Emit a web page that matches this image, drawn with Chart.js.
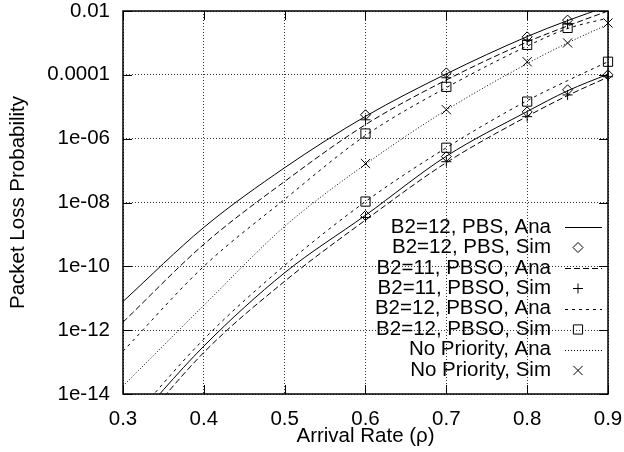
<!DOCTYPE html>
<html>
<head>
<meta charset="utf-8">
<script src="https://cdn.jsdelivr.net/npm/chart.js@4.4.1/dist/chart.umd.min.js"></script>
<style>
  html, body { margin: 0; padding: 0; background: #fff; }
</style>
</head>
<body>
<canvas id="lossChart" width="624" height="452"></canvas>
<script>
const rho = [0.3, 0.4, 0.5, 0.6, 0.7, 0.8, 0.85, 0.9];

// analytical curves (upper group = one class, lower group = the other)
const pbsAnaHi  = [7.9e-12, 1.66e-9, 1.23e-7, 5.0e-6, 1.07e-4, 1.58e-3, 5.0e-3, 1.41e-2];
const pbsAnaLo  = [5.0e-16, 3.16e-13, 6.3e-11, 3.98e-9, 2.82e-7, 7.1e-6, 3.16e-5, 1.05e-4];
const b11AnaHi  = [1.78e-12, 4.9e-10, 4.57e-8, 2.75e-6, 6.9e-5, 1.07e-3, 3.4e-3, 1.0e-2];
const b11AnaLo  = [2.5e-16, 2.0e-13, 3.4e-11, 2.82e-9, 1.78e-7, 5.0e-6, 2.24e-5, 8.5e-5];
const b12AnaHi  = [2.19e-13, 1.0e-10, 1.26e-8, 1.26e-6, 3.98e-5, 7.94e-4, 2.82e-3, 6.0e-3];
const b12AnaLo  = [7.9e-16, 5.2e-13, 1.07e-10, 1.07e-8, 5.2e-7, 1.55e-5, 6.6e-5, 2.57e-4];
const noPriAna  = [1.78e-14, 6.0e-12, 1.78e-9, 1.58e-7, 7.9e-6, 2.24e-4, 1.0e-3, 3.8e-3];

// simulation points
const simRho4 = [0.6, 0.7, 0.8, 0.85];
const simRho5 = [0.6, 0.7, 0.8, 0.85, 0.9];
const simRhoSq = [0.6, 0.7, 0.8, 0.9];
const pbsSimHi = [5.6e-6, 1.15e-4, 1.55e-3, 5.2e-3];
const pbsSimLo = [3.9e-9, 2.75e-7, 6.9e-6, 3.4e-5, 1.0e-4];
const b11SimHi = [3.9e-6, 8.1e-5, 1.23e-3, 3.9e-3];
const b11SimLo = [3.4e-9, 1.9e-7, 4.9e-6, 2.34e-5, 8.7e-5];
const b12SimHi = [1.45e-6, 4.2e-5, 8.7e-4, 2.95e-3];
const b12SimLo = [1.07e-8, 5.2e-7, 1.45e-5, 2.57e-4];
const noPriSim = [1.66e-7, 8.1e-6, 2.57e-4, 1.0e-3, 4.2e-3];

const xTicks = [0.3, 0.4, 0.5, 0.6, 0.7, 0.8, 0.9];
const xTickLabels = ['0.3', '0.4', '0.5', '0.6', '0.7', '0.8', '0.9'];
const yTicks = [1e-14, 1e-12, 1e-10, 1e-8, 1e-6, 1e-4, 1e-2];
const yTickLabels = ['1e-14', '1e-12', '1e-10', '1e-08', '1e-06', '0.0001', '0.01'];

const FONT = '"Liberation Sans", Arial, sans-serif';
Chart.defaults.font.family = FONT;
Chart.defaults.font.size = 20.5;
Chart.defaults.color = '#000';

const SOLID = [], LONG = [6, 3], SHORT = [3, 4], DOT = [1, 2];

function anaLine(values, dash) {
  return {
    data: rho.map((x, i) => ({ x: x, y: values[i] })),
    showLine: true, pointRadius: 0, pointHoverRadius: 0,
    borderColor: '#000', borderWidth: 1, borderDash: dash,
    cubicInterpolationMode: 'monotone', fill: false
  };
}

function simPoints(xs, values, style, r) {
  return {
    data: xs.map((x, i) => ({ x: x, y: values[i] })),
    showLine: false, pointStyle: style, pointRadius: r, pointHoverRadius: r,
    borderColor: '#000', backgroundColor: 'rgba(0,0,0,0)', pointBorderWidth: 1,
    clip: false
  };
}

const datasets = [
  anaLine(pbsAnaHi, SOLID),                       // 0
  anaLine(pbsAnaLo, SOLID),                       // 1
  simPoints(simRho4, pbsSimHi, 'rectRot', 5),     // 2
  simPoints(simRho5, pbsSimLo, 'rectRot', 5),     // 3
  anaLine(b11AnaHi, LONG),                        // 4
  anaLine(b11AnaLo, LONG),                        // 5
  simPoints(simRho4, b11SimHi, 'cross', 5),       // 6
  simPoints(simRho5, b11SimLo, 'cross', 5),       // 7
  anaLine(b12AnaHi, SHORT),                       // 8
  anaLine(b12AnaLo, SHORT),                       // 9
  simPoints(simRho4, b12SimHi, 'rect', 6.5),      // 10
  simPoints(simRhoSq, b12SimLo, 'rect', 6.5),     // 11
  anaLine(noPriAna, DOT),                         // 12
  simPoints(simRho5, noPriSim, 'crossRot', 6.5)   // 13
];

// gnuplot-style key: label on the left, sample on the right
const keyLabels = ['B2=12, PBS, Ana', 'B2=12, PBS, Sim', 'B2=11, PBSO, Ana', 'B2=11, PBSO, Sim',
                   'B2=12, PBSO, Ana', 'B2=12, PBSO, Sim', 'No Priority, Ana', 'No Priority, Sim'];
const keyDatasets = [0, 2, 4, 6, 8, 10, 12, 13];

const keyPlugin = {
  id: 'gnuKey',
  afterDatasetsDraw(chart) {
    const ctx = chart.ctx;
    ctx.save();
    ctx.font = '20.5px ' + FONT;
    ctx.fillStyle = '#000';
    ctx.textAlign = 'right';
    ctx.textBaseline = 'middle';
    keyLabels.forEach((label, i) => {
      const y = 227 + i * 20.45;
      ctx.fillText(label, 551, y);
      const ds = chart.data.datasets[keyDatasets[i]];
      ctx.strokeStyle = '#000';
      ctx.lineWidth = 1;
      if (ds.showLine) {
        ctx.setLineDash(ds.borderDash);
        ctx.beginPath();
        ctx.moveTo(565, Math.round(y) + 0.5);
        ctx.lineTo(602, Math.round(y) + 0.5);
        ctx.stroke();
        ctx.setLineDash([]);
      } else {
        ctx.fillStyle = 'rgba(0,0,0,0)';
        Chart.helpers.drawPoint(ctx, { pointStyle: ds.pointStyle, radius: ds.pointRadius, rotation: 0, borderWidth: 1 }, 578, Math.round(y) + 0.5);
        ctx.fillStyle = '#000';
      }
    });
    ctx.restore();
  }
};

// full box with inward tick marks on all four sides
const framePlugin = {
  id: 'gnuFrame',
  afterDraw(chart) {
    const { ctx, chartArea: a, scales } = chart;
    ctx.save();
    ctx.strokeStyle = '#000';
    ctx.lineWidth = 1;
    ctx.beginPath();
    xTicks.forEach(v => {
      const px = Math.round(scales.x.getPixelForValue(v)) + 0.5;
      ctx.moveTo(px, a.bottom); ctx.lineTo(px, a.bottom - 9);
      ctx.moveTo(px, a.top); ctx.lineTo(px, a.top + 9);
    });
    yTicks.forEach(v => {
      const py = Math.round(scales.y.getPixelForValue(v)) + 0.5;
      ctx.moveTo(a.left, py); ctx.lineTo(a.left + 9, py);
      ctx.moveTo(a.right, py); ctx.lineTo(a.right - 9, py);
    });
    ctx.stroke();
    ctx.lineWidth = 1.5;
    ctx.strokeRect(a.left, a.top, a.right - a.left, a.bottom - a.top);
    ctx.restore();
  }
};

new Chart(document.getElementById('lossChart').getContext('2d'), {
  type: 'scatter',
  data: { datasets: datasets },
  options: {
    responsive: false,
    animation: false,
    events: [],
    layout: { padding: { left: 0, right: 16, top: 11, bottom: 0 } },
    plugins: { legend: { display: false }, tooltip: { enabled: false } },
    scales: {
      x: {
        type: 'linear', min: 0.3, max: 0.9,
        afterBuildTicks: s => { s.ticks = xTicks.map(v => ({ value: v })); },
        afterFit: s => { s.height = 58; s.paddingLeft = 0; s.paddingRight = 0; },
        ticks: { callback: (v, i) => xTickLabels[i], padding: 13, maxRotation: 0, autoSkip: false },
        grid: { color: '#333', lineWidth: 1, drawTicks: false },
        border: { display: false, dash: [1, 2] },
        title: { display: true, text: 'Arrival Rate (ρ)', padding: { top: 0, bottom: 3 } }
      },
      y: {
        type: 'logarithmic', min: 1e-14, max: 1e-2,
        afterBuildTicks: s => { s.ticks = yTicks.map(v => ({ value: v })); },
        afterFit: s => { s.width = 123; s.paddingTop = 0; s.paddingBottom = 0; },
        ticks: { callback: (v, i) => yTickLabels[i], padding: 13, autoSkip: false },
        grid: { color: '#333', lineWidth: 1, drawTicks: false },
        border: { display: false, dash: [1, 2] },
        title: { display: true, text: 'Packet Loss Probability', padding: { top: 6, bottom: 0 } }
      }
    }
  },
  plugins: [keyPlugin, framePlugin]
});
</script>
</body>
</html>
